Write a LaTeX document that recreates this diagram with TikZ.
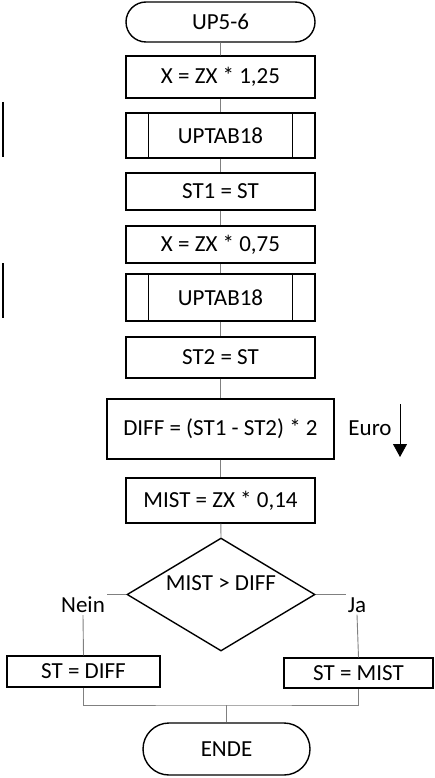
\documentclass[tikz,border=0pt]{standalone}
\usepackage{fontspec}
\setmainfont{Carlito}
\usetikzlibrary{shapes.geometric,shapes.misc,arrows.meta}
\tikzset{
  box/.style={draw,line width=1.4pt,minimum width=189pt,inner sep=0pt},
  term/.style={draw,line width=1.4pt,rounded rectangle,inner sep=0pt},
  lbl/.style={inner sep=2pt},
  flow/.style={draw=gray,line width=0.9pt}
}
\begin{document}
\begin{tikzpicture}[x=1pt,y=-1pt,font=\fontsize{23}{27}\selectfont]
  \useasboundingbox (0,0) rectangle (434,778);
  \node[term,minimum width=189pt,minimum height=40pt] (start) at (220.5,22) {UP5-6};
  \node[box,minimum height=42pt] (a1) at (220.5,77) {X = ZX * 1,25};
  \node[box,minimum height=45pt] (sub1) at (220.5,135.5) {UPTAB18};
  \node[box,minimum height=37pt] (a2) at (220.5,191.5) {ST1 = ST};
  \node[box,minimum height=37pt] (a3) at (220.5,244.5) {X = ZX * 0,75};
  \node[box,minimum height=47pt] (sub2) at (220.5,297.5) {UPTAB18};
  \node[box,minimum height=41pt] (a4) at (220.5,357.5) {ST2 = ST};
  \node[box,minimum width=227pt,minimum height=60pt] (diff) at (220.5,429) {DIFF = (ST1 - ST2) * 2};
  \node[box,minimum height=45pt] (mist) at (220.5,500.5) {MIST = ZX * 0,14};
  \node[draw,line width=1.4pt,diamond,inner sep=0pt,minimum width=188pt,minimum height=113pt] (dec) at (221,594.5) {};
  \node at (221,583) {MIST > DIFF};
  \node[lbl] (nein) at (83,605) {Nein};
  \node[lbl] (ja) at (357,605) {Ja};
  \node[box,minimum width=153pt,minimum height=31pt] (no) at (83.5,671.5) {ST = DIFF};
  \node[box,minimum width=149pt,minimum height=30pt] (yes) at (358.5,673) {ST = MIST};
  \node[term,minimum width=167pt,minimum height=52pt] (ende) at (226.5,749) {ENDE};
  \coordinate (m) at (226.5,705);

  % subroutine side lines
  \foreach \s in {sub1,sub2} {
    \draw[line width=1.4pt] ([xshift=23pt]\s.north west) -- ([xshift=23pt]\s.south west);
    \draw[line width=1.4pt] ([xshift=-23pt]\s.north east) -- ([xshift=-23pt]\s.south east);
  }

  % connectors
  \draw[flow] (start) -- (a1);
  \draw[flow] (a1) -- (sub1);
  \draw[flow] (sub1) -- (a2);
  \draw[flow] (a2) -- (a3);
  \draw[flow] (a3) -- (sub2);
  \draw[flow] (sub2) -- (a4);
  \draw[flow] (a4) -- (diff);
  \draw[flow] (diff) -- (mist);
  \draw[flow] (mist) -- (dec.north);
  \draw[flow] (dec.west) -- (dec.west -| nein.east);
  \draw[flow] (nein.south) -- (no.north);
  \draw[flow] (dec.east) -- (dec.east -| ja.west);
  \draw[flow] (ja.south) -- (yes.north);
  \draw[flow] (no.south) |- (m) -| (yes.south);
  \draw[flow] (m) -- (ende.north);

  % euro note
  \node (euro) at (370,428) {Euro};
  \coordinate (e1) at (400,404);
  \coordinate (e2) at (400,457);
  \draw[line width=0.8pt,-{Triangle[length=13pt,width=14pt]}] (e1) -- (e2);

  % change bars
  \draw[line width=2.2pt] (3,102) -- (3,157);
  \draw[line width=2.2pt] (3,263) -- (3,318);
\end{tikzpicture}
\end{document}
